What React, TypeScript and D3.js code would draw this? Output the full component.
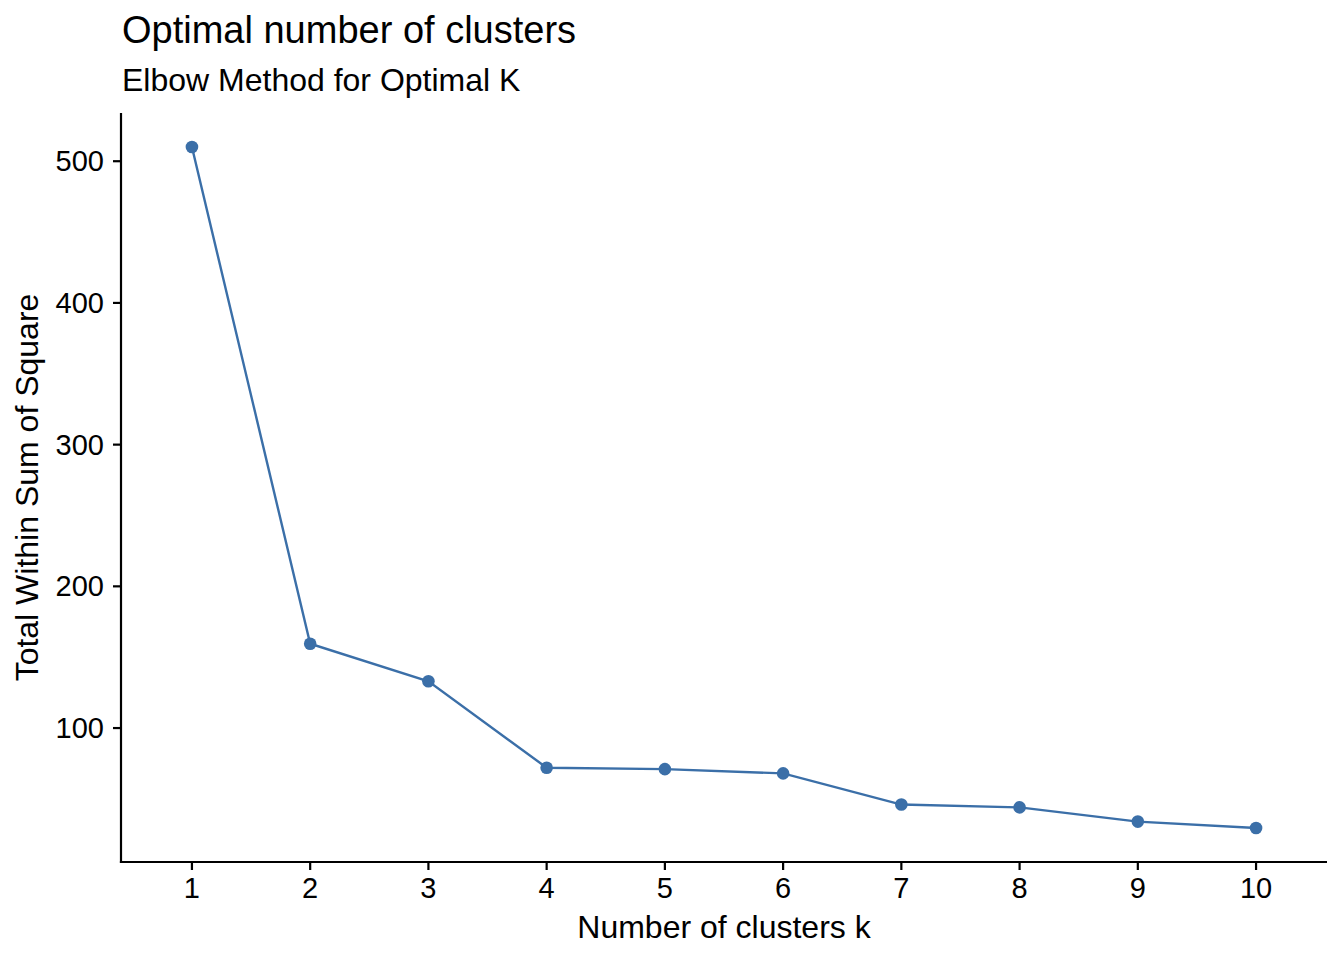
import React from "react";
import * as d3 from "d3";

const clusters: number[] = [1, 2, 3, 4, 5, 6, 7, 8, 9, 10];
const wss: number[] = [510, 159.5, 133, 72, 71, 68, 46, 44, 34, 29.5];
const yTicks: number[] = [100, 200, 300, 400, 500];

const title = "Optimal number of clusters";
const subtitle = "Elbow Method for Optimal K";
const xTitle = "Number of clusters k";
const yTitle = "Total Within Sum of Square";

const W = 1344;
const H = 960;
const left = 121;
const right = 1327;
const top = 113;
const bottom = 862;
const color = "#3B6FA8";
const font = "'Liberation Sans', Arial, Helvetica, sans-serif";

export default function App() {
  const x = d3
    .scalePoint<number>()
    .domain(clusters)
    .range([left, right])
    .padding(0.6);
  const [mn, mx] = d3.extent(wss) as [number, number];
  const pad = (mx - mn) * 0.05;
  const y = d3.scaleLinear().domain([mn - pad, mx + pad]).range([bottom, top]);
  const pts = clusters.map((k, i) => [x(k) as number, y(wss[i])] as [number, number]);
  const line = d3.line()(pts) || "";

  return (
    <svg
      width={W}
      height={H}
      style={{ position: "absolute", left: 0, top: 0, display: "block", background: "#fff" }}
      fontFamily={font}
    >
      <rect width={W} height={H} fill="#fff" />
      <text x={122} y={43} fontSize={38} fill="#000">{title}</text>
      <text x={122} y={91} fontSize={32} fill="#000">{subtitle}</text>

      <path d={line} fill="none" stroke={color} strokeWidth={2.4} />
      {pts.map((p, i) => (
        <circle key={i} cx={p[0]} cy={p[1]} r={6.3} fill={color} />
      ))}

      <line x1={left} x2={left} y1={top} y2={bottom + 1.1} stroke="#000" strokeWidth={2.2} />
      <line x1={left - 1.1} x2={right} y1={bottom} y2={bottom} stroke="#000" strokeWidth={2.2} />
      {yTicks.map((t) => (
        <g key={t}>
          <line x1={left - 8} x2={left} y1={y(t)} y2={y(t)} stroke="#000" strokeWidth={2.2} />
          <text x={104} y={y(t) + 10} fontSize={29} textAnchor="end" fill="#000">{t}</text>
        </g>
      ))}
      {clusters.map((k) => (
        <g key={k}>
          <line x1={x(k)} x2={x(k)} y1={bottom} y2={bottom + 8} stroke="#000" strokeWidth={2.2} />
          <text x={x(k)} y={898} fontSize={29} textAnchor="middle" fill="#000">{k}</text>
        </g>
      ))}
      <text x={(left + right) / 2} y={938} fontSize={32} textAnchor="middle" fill="#000">{xTitle}</text>
      <text
        transform={`translate(38,${(top + bottom) / 2}) rotate(-90)`}
        fontSize={32}
        textAnchor="middle"
        fill="#000"
      >
        {yTitle}
      </text>
    </svg>
  );
}
